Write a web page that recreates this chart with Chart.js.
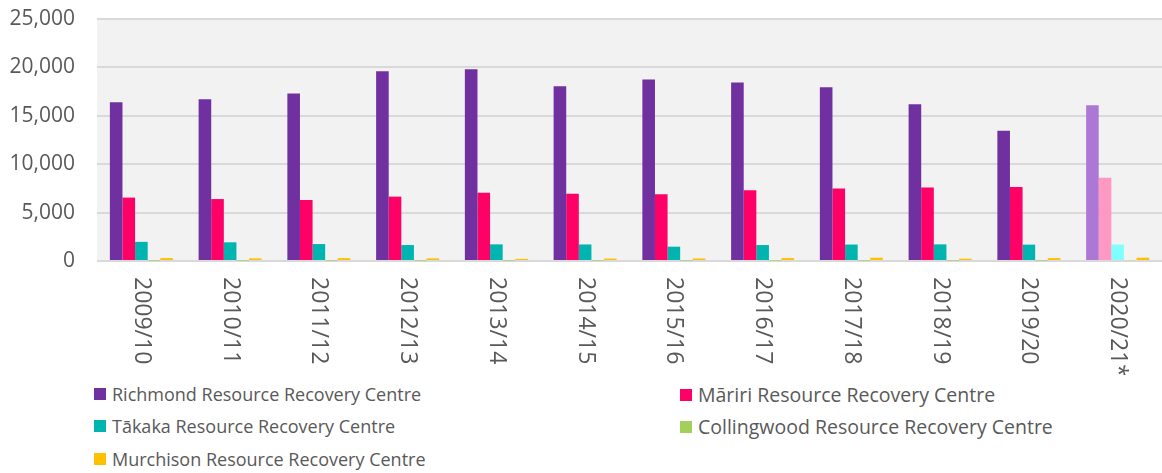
<!DOCTYPE html>
<html>
<head>
<meta charset="utf-8">
<script src="https://cdn.jsdelivr.net/npm/chart.js@4/dist/chart.umd.min.js"></script>
<style>
  body { margin: 0; background: #fff; font-family: "Open Sans", sans-serif; }
  #wrap { position: relative; width: 1162px; height: 473px; }
  #chartBox { position: absolute; left: 0; top: 0; width: 1162px; height: 375px; }
  #legend { position: absolute; left: 0; top: 376px; width: 1162px; }
  .item { position: absolute; display: flex; align-items: center; color: #595959; font-size: 18px; white-space: nowrap; }
  .item.right { font-size: 19.5px; }
  .item span.box { width: 12px; height: 12px; margin-right: 6px; }
</style>
</head>
<body>
<div id="wrap">
  <div id="chartBox"><canvas id="reporteChart"></canvas></div>
  <div id="legend"></div>
</div>
<script>
// Años (el último es estimado, con colores más claros)
const years = ['2009/10', '2010/11', '2011/12', '2012/13', '2013/14', '2014/15',
               '2015/16', '2016/17', '2017/18', '2018/19', '2019/20', '2020/21*'];

const richmond    = [16400, 16700, 17300, 19600, 19800, 18050, 18750, 18450, 17950, 16200, 13450, 16100];
const mariri      = [6550, 6400, 6300, 6650, 7050, 6950, 6900, 7300, 7500, 7600, 7650, 8600];
const takaka      = [1980, 1930, 1750, 1650, 1720, 1710, 1480, 1650, 1700, 1720, 1690, 1700];
const collingwood = [40, 40, 40, 40, 40, 40, 40, 40, 40, 40, 40, 40];
const murchison   = [300, 270, 300, 270, 220, 250, 260, 300, 340, 240, 300, 340];

const yTicks = [0, 5000, 10000, 15000, 20000, 25000];

const series = [
    { label: 'Richmond Resource Recovery Centre',    data: richmond,    color: '#7030a0', light: '#ad77d6' },
    { label: 'Māriri Resource Recovery Centre',      data: mariri,      color: '#ff0066', light: '#ff99c4' },
    { label: 'Tākaka Resource Recovery Centre',      data: takaka,      color: '#00b4b0', light: '#80ffff' },
    { label: 'Collingwood Resource Recovery Centre', data: collingwood, color: '#a3cf5a', light: '#c8e59b' },
    { label: 'Murchison Resource Recovery Centre',   data: murchison,   color: '#ffc000', light: '#ffc000' }
];

const textColor = '#595959';
const gridColor = '#d9d9d9';

// fondo gris del área de trazado
const plotBg = {
    id: 'plotBg',
    beforeDraw(chart) {
        const a = chart.chartArea;
        const c = chart.ctx;
        c.save();
        c.fillStyle = '#f2f2f2';
        c.fillRect(a.left, a.top - 1, a.right - a.left, a.bottom - a.top + 2);
        c.restore();
    }
};

// etiquetas del eje x giradas 90° (leídas de arriba abajo)
const rotatedLabels = {
    id: 'rotatedLabels',
    afterDraw(chart) {
        const xs = chart.scales.x;
        const c = chart.ctx;
        c.save();
        c.fillStyle = textColor;
        c.font = '23px "Open Sans", sans-serif';
        c.textAlign = 'left';
        c.textBaseline = 'middle';
        years.forEach((lab, i) => {
            const x = xs.getPixelForValue(i);
            c.save();
            c.translate(x, chart.chartArea.bottom + 16);
            c.rotate(Math.PI / 2);
            c.fillText(lab, 0, 0);
            c.restore();
        });
        c.restore();
    }
};

const ctx = document.getElementById('reporteChart').getContext('2d');
const myChart = new Chart(ctx, {
    type: 'bar',
    data: {
        labels: years,
        datasets: series.map(s => ({
            label: s.label,
            data: s.data,
            backgroundColor: s.data.map((_, i) => i === years.length - 1 ? s.light : s.color),
            borderWidth: 0,
            categoryPercentage: 0.71,
            barPercentage: 1
        }))
    },
    options: {
        responsive: true,
        maintainAspectRatio: false,
        animation: false,
        layout: { padding: { top: 19, right: 0, left: 0, bottom: 0 } },
        plugins: {
            legend: { display: false },
            tooltip: { enabled: false }
        },
        scales: {
            x: {
                grid: { display: false },
                border: { display: false },
                ticks: { display: false },
                afterFit(scale) { scale.height = 114; }
            },
            y: {
                min: 0,
                max: 25000,
                afterBuildTicks(scale) { scale.ticks = yTicks.map(v => ({ value: v })); },
                grid: { color: gridColor, lineWidth: 2, drawTicks: false },
                border: { display: false },
                ticks: {
                    color: textColor,
                    padding: 22,
                    font: { family: '"Open Sans", sans-serif', size: 21 },
                    callback: v => v.toLocaleString('en-US')
                },
                afterFit(scale) {
                    scale.width = 97;
                    // el padding de las etiquetas no debe empujar el área hacia abajo
                    scale.paddingTop = 0;
                    scale.paddingBottom = 0;
                }
            }
        }
    },
    plugins: [plotBg, rotatedLabels]
});

// leyenda en dos columnas
const legendPos = [
    { left: 94, top: 6 }, { left: 680, top: 5 },
    { left: 94, top: 38 }, { left: 680, top: 37 },
    { left: 94, top: 71 }
];
const legendEl = document.getElementById('legend');
series.forEach((s, i) => {
    const div = document.createElement('div');
    div.className = 'item' + (i % 2 === 1 ? ' right' : '');
    div.style.left = legendPos[i].left + 'px';
    div.style.top = legendPos[i].top + 'px';
    div.innerHTML = '<span class="box" style="background:' + s.color + '"></span><span>' + s.label + '</span>';
    legendEl.appendChild(div);
});
</script>
</body>
</html>
